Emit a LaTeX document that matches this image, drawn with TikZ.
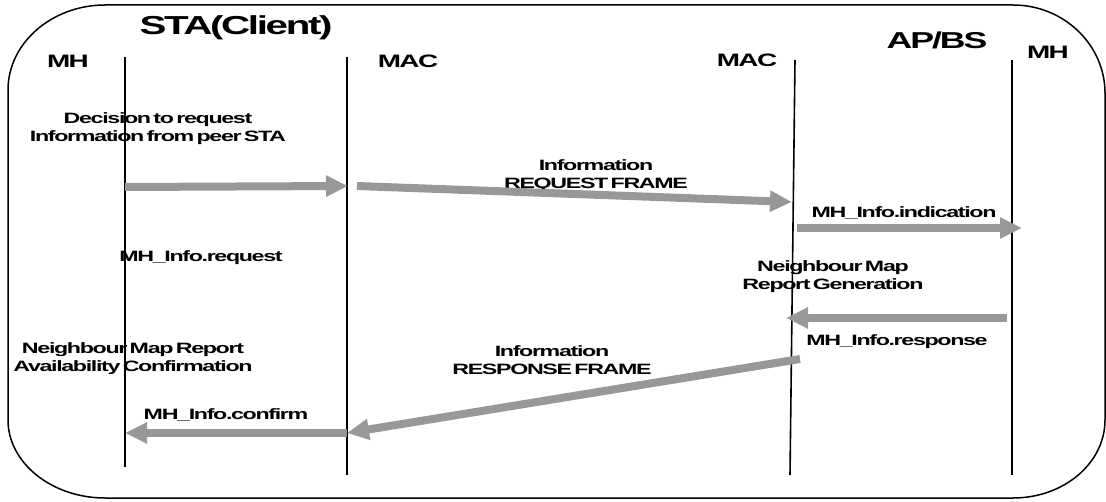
\documentclass[tikz,border=0pt]{standalone}
\usepackage{fontspec}
\usetikzlibrary{arrows.meta}
\newfontfamily\lab{Liberation Sans}[FakeStretch=1.55,LetterSpace=-9,WordSpace=0.45]
\definecolor{arrowgray}{RGB}{152,152,152}
\tikzset{
  lbl/.style={font=\lab\bfseries\fontsize{15}{18}\selectfont, align=center, inner sep=0pt},
  head/.style={font=\lab\bfseries\fontsize{18}{20}\selectfont, inner sep=0pt},
  lifeline/.style={line width=1.6pt, black},
  msg/.style={line width=8pt, arrowgray, -{Triangle[length=22pt,width=20pt]}},
  frame/.style={line width=1.5pt, black}
}
\begin{document}
\begin{tikzpicture}[x=1pt,y=-1pt]
\useasboundingbox (0,0) rectangle (1106,502);
% outer frame
\draw[frame] (8,90) .. controls (8,43) and (52,5) .. (105,5) -- (1013,5)
  .. controls (1064,5) and (1105,45) .. (1105,93) -- (1105,420)
  .. controls (1105,463) and (1064,498) .. (1013,498) -- (105,498)
  .. controls (52,498) and (8,463) .. (8,420) -- cycle;
% headers
\node[font=\lab\bfseries\fontsize{26}{28}\selectfont, inner sep=0pt] (title) at (236,28) {STA(Client)};
\node[font=\lab\bfseries\fontsize{23}{25}\selectfont, inner sep=0pt] (apbs) at (937,40) {AP/BS};
\node[head] (mhl) at (68,61) {MH};
\node[head] (macl) at (408,61) {MAC};
\node[head] (macr) at (747,60) {MAC};
\node[head] (mhr) at (1048,52) {MH};
% lifelines
\coordinate (l1t) at (125,57); \coordinate (l1b) at (125,467);
\coordinate (l2t) at (347,57); \coordinate (l2b) at (347,475);
\coordinate (l3t) at (795,60); \coordinate (l3b) at (790,475);
\coordinate (l4t) at (1012,60); \coordinate (l4b) at (1012,475);
\draw[lifeline] (l1t) -- (l1b);
\draw[lifeline] (l2t) -- (l2b);
\draw[lifeline] (l3t) -- (l3b);
\draw[lifeline] (l4t) -- (l4b);
% labels
\node[lbl] (dec) at (158,129) {Decision to request\\Information from peer STA};
\node[lbl] (reqf) at (596,176) {Information\\REQUEST FRAME};
\node[lbl] (ind) at (904,213) {MH\_Info.indication};
\node[lbl] (req) at (201,258) {MH\_Info.request};
\node[lbl] (gen) at (833,277) {Neighbour Map\\Report Generation};
\node[lbl] (resp) at (897,342) {MH\_Info.response};
\node[lbl] (respf) at (552,360) {Information\\RESPONSE FRAME};
\node[lbl] (avail) at (133,359) {Neighbour Map Report\\Availability Confirmation};
\node[lbl] (conf) at (226,415) {MH\_Info.confirm};
% message arrows
\coordinate (m1s) at (125,187); \coordinate (m1e) at (348,186);
\coordinate (m2s) at (357,186); \coordinate (m2e) at (792,202);
\coordinate (m3s) at (797,228); \coordinate (m3e) at (1022,228);
\coordinate (m4s) at (1007,318); \coordinate (m4e) at (786,318);
\coordinate (m5s) at (800,359); \coordinate (m5e) at (347,433);
\coordinate (m6s) at (347,433); \coordinate (m6e) at (125,433);
\draw[msg] (m1s) -- (m1e);
\draw[msg] (m2s) -- (m2e);
\draw[msg] (m3s) -- (m3e);
\draw[msg] (m4s) -- (m4e);
\draw[msg] (m5s) -- (m5e);
\draw[msg] (m6s) -- (m6e);
\end{tikzpicture}
\end{document}
